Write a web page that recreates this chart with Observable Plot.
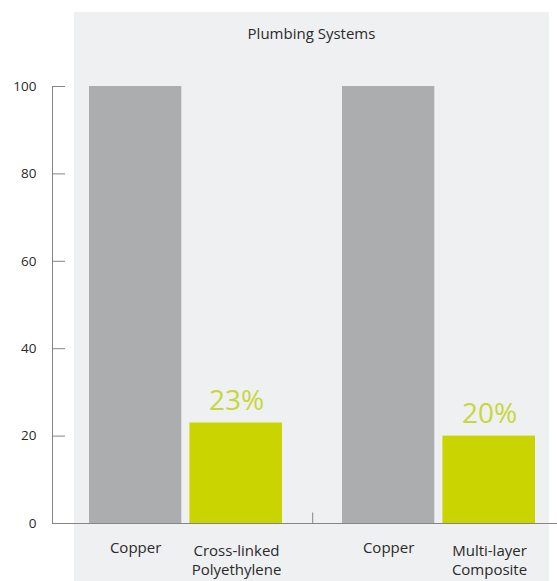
<!DOCTYPE html>
<html>
<head>
<meta charset="utf-8">
<script src="https://cdn.jsdelivr.net/npm/d3@7"></script>
<script src="https://cdn.jsdelivr.net/npm/@observablehq/plot@0.6"></script>
<style>
  html, body { margin: 0; padding: 0; background: #ffffff; overflow: hidden; }
  #wrap { position: relative; width: 557px; height: 581px; font-family: "Open Sans", sans-serif; }
  #panel { position: absolute; left: 74px; top: 12px; width: 475px; height: 569px; background: #eff0f2; }
  #title { position: absolute; left: 74px; width: 475px; top: 22px; line-height: 22px; text-align: center; font-size: 15px; color: #2a2a2a; }
  #chart { position: absolute; left: 0; top: 0; }
  #chart svg { background: transparent !important; }
</style>
</head>
<body>
<div id="wrap">
  <div id="panel"></div>
  <div id="title">Plumbing Systems</div>
  <div id="chart"></div>
</div>
<script>
const systems = ["PEX system", "Composite system"];
const copperLabel = "Copper";
const copperValues = [100, 100];
const altMaterials = ["Cross-linked\nPolyethylene", "Multi-layer\nComposite"];
const altValues = [23, 20];
const altLabels = ["23%", "20%"];
const yTicks = [0, 20, 40, 60, 80, 100];

const data = systems.map((s, i) => ({
  system: s,
  copper: copperValues[i],
  alt: altValues[i],
  altMaterial: altMaterials[i],
  altLabel: altLabels[i],
  copperLabel
}));

const textColor = "#2a2a2a";
const axisColor = "#858585";
const plot = Plot.plot({
  width: 557,
  height: 581,
  marginTop: 86,
  marginBottom: 58,
  marginLeft: 52,
  marginRight: 0,
  style: { background: "transparent", fontFamily: "Open Sans, sans-serif", color: textColor },
  x: { type: "band", domain: systems, paddingInner: 0.2368, paddingOuter: 0.1149, align: 0.624, axis: null },
  y: { domain: [0, 100], ticks: yTicks },
  marks: [
    Plot.frame({ anchor: "left", stroke: axisColor }),
    Plot.axisY({ ticks: yTicks, tickSize: -13, tickPadding: 29, fontSize: 13.5, stroke: axisColor, fill: textColor, label: null }),
    Plot.barY(data, { x: "system", y: "copper", fill: "#acadaf", insetRight: 100.7 }),
    Plot.barY(data, { x: "system", y: "alt", fill: "#cad400", insetLeft: 100.4 }),
    Plot.ruleY([0], { stroke: axisColor }),
    Plot.ruleX([systems[0]], { dx: 126.7, insetTop: 426.5, stroke: axisColor }),
    Plot.text(data, { x: "system", y: "alt", text: "altLabel", dx: 50.5, dy: -13, lineAnchor: "bottom", fill: "#c8d63c", fontSize: 28 }),
    Plot.text(data, { x: "system", frameAnchor: "bottom", text: "copperLabel", dx: -50.4, dy: 19, lineAnchor: "top", fill: textColor, fontSize: 15 }),
    Plot.text(data, { x: "system", frameAnchor: "bottom", text: "altMaterial", dx: 50.5, dy: 19, lineAnchor: "top", lineHeight: 1.28, fill: textColor, fontSize: 15 })
  ]
});
document.getElementById("chart").appendChild(plot);
</script>
</body>
</html>
